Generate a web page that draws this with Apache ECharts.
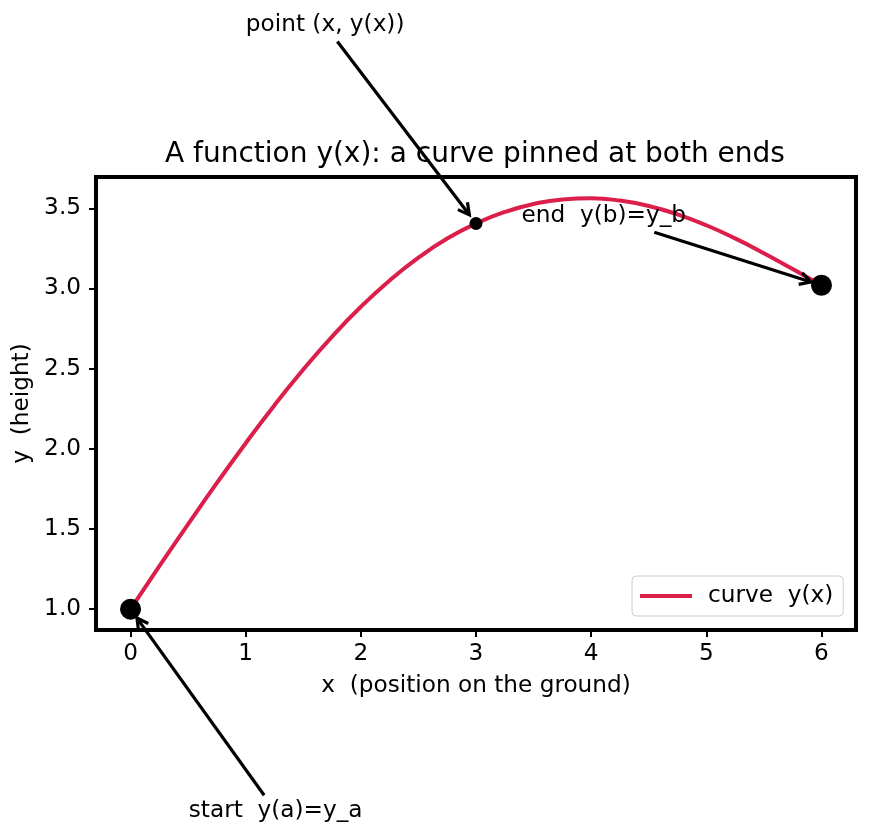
<!DOCTYPE html>
<html>
<head>
<meta charset="utf-8">
<title>y(x)</title>
<script src="https://cdn.jsdelivr.net/npm/echarts@6.0.0/dist/echarts.min.js"></script>
<style>
    html, body { margin: 0; padding: 0; background: #fff; }
    #chart { width: 869px; height: 836px; }
</style>
</head>
<body>
<div id="chart"></div>
<script>
// curve, every quarter unit
const xs = [0, 0.25, 0.5, 0.75, 1, 1.25, 1.5, 1.75, 2, 2.25, 2.5, 2.75, 3,
    3.25, 3.5, 3.75, 4, 4.25, 4.5, 4.75, 5, 5.25, 5.5, 5.75, 6]
const ys = [1.000, 1.268, 1.530, 1.787, 2.035, 2.272, 2.494, 2.700, 2.886, 3.050, 3.192, 3.311, 3.405,
    3.477, 3.527, 3.555, 3.562, 3.548, 3.514, 3.462, 3.394, 3.312, 3.220, 3.121, 3.020]

const xTicks = [0, 1, 2, 3, 4, 5, 6]
const yTicks = [1.0, 1.5, 2.0, 2.5, 3.0, 3.5]

const endPoints = [[0, 1.0], [6, 3.02]]
const midPoint = [[3, 3.405]]

// text position and the point it points at, both in data units
const notes = [
    { text: 'point (x, y(x))', xy: [3, 3.405], xytext: [1.69, 4.64] },
    { text: 'end  y(b)=y_b', xy: [6, 3.02], xytext: [4.11, 3.45] },
    { text: 'start  y(a)=y_a', xy: [0, 1.0], xytext: [1.26, -0.26] },
]

const FONT = 'DejaVu Sans'
const RED = '#dc1e4a'
const fs = 23.2

const chart = echarts.init(document.getElementById('chart'))

const curve = xs.map((x, i) => [x, ys[i]])

chart.setOption({
    animation: false,
    backgroundColor: '#fff',
    textStyle: { fontFamily: FONT, color: '#000' },
    title: {
        text: 'A function y(x): a curve pinned at both ends',
        left: 470, top: 136, textAlign: 'center',
        textStyle: { fontFamily: FONT, fontSize: 28, fontWeight: 'normal', color: '#000' },
    },
    grid: {
        left: 96, right: 13, top: 177, bottom: 206,
        show: true, borderColor: '#000', borderWidth: 4,
    },
    legend: {
        data: [{ name: 'curve  y(x)', icon: 'path://M0,0 L52,0 L52,4 L0,4 Z' }],
        left: 632, top: 576,
        padding: [8, 10, 8, 8],
        itemWidth: 52, itemHeight: 4,
        itemStyle: { color: RED },
        backgroundColor: 'rgba(255,255,255,0.8)',
        borderColor: '#cccccc', borderWidth: 1, borderRadius: 4,
        textStyle: { fontFamily: FONT, fontSize: fs, color: '#000', padding: [0, 0, 0, 11], lineHeight: 24 },
    },
    xAxis: {
        type: 'value', min: -0.3, max: 6.3,
        name: 'x  (position on the ground)', nameLocation: 'middle', nameGap: 44,
        nameTextStyle: { fontFamily: FONT, fontSize: fs, color: '#000' },
        axisLine: { show: false, onZero: false },
        axisTick: { show: true, customValues: xTicks, length: 7, lineStyle: { color: '#000', width: 2 } },
        axisLabel: { customValues: xTicks, margin: 12, fontSize: fs, color: '#000', fontFamily: FONT },
        splitLine: { show: false },
    },
    yAxis: {
        type: 'value', min: 0.87, max: 3.695,
        name: 'y  (height)', nameLocation: 'middle', nameGap: 62, nameRotate: 90,
        nameTextStyle: { fontFamily: FONT, fontSize: fs, color: '#000' },
        axisLine: { show: false, onZero: false },
        axisTick: { show: true, customValues: yTicks, length: 7, lineStyle: { color: '#000', width: 2 } },
        axisLabel: {
            customValues: yTicks, margin: 15, fontSize: fs, color: '#000', fontFamily: FONT,
            formatter: v => v.toFixed(1),
        },
        splitLine: { show: false },
    },
    series: [
        {
            name: 'curve  y(x)', type: 'line', data: curve,
            smooth: true, symbol: 'none',
            lineStyle: { color: RED, width: 4 },
            itemStyle: { color: RED },
            z: 2,
        },
        {
            name: 'ends', type: 'scatter', data: endPoints,
            symbolSize: 21, itemStyle: { color: '#000', opacity: 1 }, z: 3,
        },
        {
            name: 'mid', type: 'scatter', data: midPoint,
            symbolSize: 13, itemStyle: { color: '#000', opacity: 1 }, z: 3,
        },
    ],
})

// annotations: text plus an open '->' arrow, placed from data units
const ctx = document.createElement('canvas').getContext('2d')
ctx.font = fs + 'px "' + FONT + '"'

const arrows = () => {
    const els = []
    notes.forEach(n => {
        const [tx, ty] = chart.convertToPixel({ gridIndex: 0 }, n.xytext)
        const [px, py] = chart.convertToPixel({ gridIndex: 0 }, n.xy)
        const hw = ctx.measureText(n.text).width / 2 + 4
        const hh = 16
        const dx = px - tx, dy = py - ty
        const t = Math.min(hw / Math.abs(dx), hh / Math.abs(dy))
        const sx = tx + dx * t, sy = ty + dy * t
        const len = Math.hypot(dx, dy)
        const ux = dx / len, uy = dy / len
        const ex = px - ux * 11, ey = py - uy * 11
        const bx = ex - ux * 11, by = ey - uy * 11
        els.push({
            type: 'text', x: tx, y: ty, z: 100,
            style: {
                text: n.text, fontSize: fs, fontFamily: FONT, fill: '#000',
                align: 'center', verticalAlign: 'middle',
                textAlign: 'center', textVerticalAlign: 'middle',
            },
        })
        els.push({
            type: 'line', z: 100,
            shape: { x1: sx, y1: sy, x2: ex, y2: ey },
            style: { stroke: '#000', lineWidth: 3.2 },
        })
        els.push({
            type: 'polyline', z: 100,
            shape: { points: [[bx - uy * 6, by + ux * 6], [ex, ey], [bx + uy * 6, by - ux * 6]] },
            style: { stroke: '#000', lineWidth: 3.2, fill: null },
        })
    })
    return els
}

chart.setOption({ graphic: arrows() })
</script>
</body>
</html>
